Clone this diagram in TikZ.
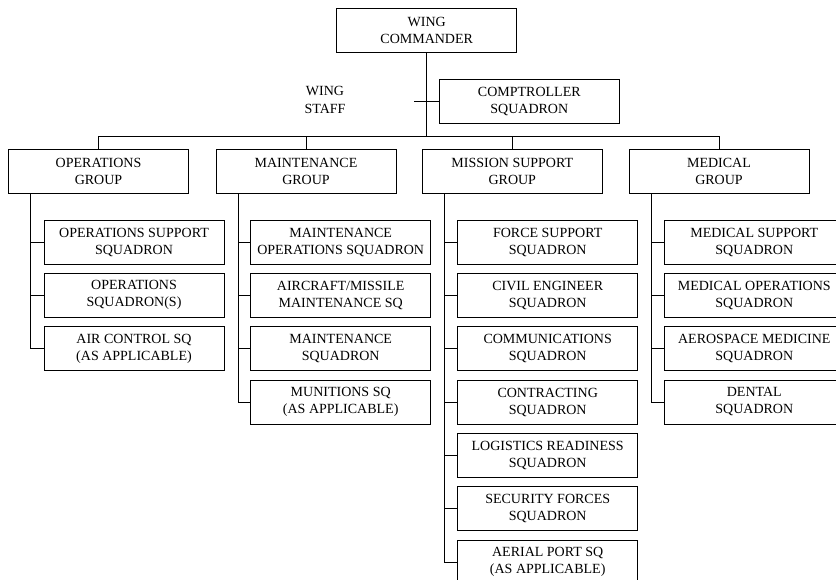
\documentclass[tikz,border=0pt]{standalone}
\usepackage{fontspec}
\setmainfont{Liberation Serif}
\begin{document}
\begin{tikzpicture}[x=1pt,y=-1pt,
  box/.style={draw,line width=1pt,minimum width=180pt,minimum height=44pt,inner sep=0pt,align=center,font=\fontsize{14}{17}\selectfont},
  conn/.style={line width=1pt},
  lbl/.style={align=center,inner sep=0pt,font=\fontsize{14}{18}\selectfont}]
\clip (0,0) rectangle (836,579);
\node[box] (wc) at (426.7,30.3) {WING\\COMMANDER};
\node[box] (comp) at (529.3,101.3) {COMPTROLLER\\SQUADRON};
\node[lbl] (staff) at (325,99.7) {WING\\STAFF};
\coordinate (tick) at (414,101.3);
\coordinate (busL) at (98.5,136);
\coordinate (busR) at (719,136);
% groups
\node[box] (og) at (98.5,171.7) {OPERATIONS\\GROUP};
\node[box] (mg) at (306,171.7) {MAINTENANCE\\GROUP};
\node[box] (msg) at (512.3,171.7) {MISSION SUPPORT\\GROUP};
\node[box] (mdg) at (719,171.7) {MEDICAL\\GROUP};
% ops children
\node[box] (o1) at (134,242) {OPERATIONS SUPPORT\\SQUADRON};
\node[box] (o2) at (134,295.3) {OPERATIONS\\SQUADRON(S)};
\node[box] (o3) at (134,348.7) {AIR CONTROL SQ\\(AS APPLICABLE)};
% maint children
\node[box] (m1) at (340.7,242) {MAINTENANCE\\OPERATIONS SQUADRON};
\node[box] (m2) at (340.7,295.3) {AIRCRAFT/MISSILE\\MAINTENANCE SQ};
\node[box] (m3) at (340.7,348.7) {MAINTENANCE\\SQUADRON};
\node[box] (m4) at (340.7,402) {MUNITIONS SQ\\(AS APPLICABLE)};
% mission support children
\node[box] (s1) at (547.7,242) {FORCE SUPPORT\\SQUADRON};
\node[box] (s2) at (547.7,295.3) {CIVIL ENGINEER\\SQUADRON};
\node[box] (s3) at (547.7,348.7) {COMMUNICATIONS\\SQUADRON};
\node[box] (s4) at (547.7,402) {CONTRACTING\\SQUADRON};
\node[box] (s5) at (547.7,455.3) {LOGISTICS READINESS\\SQUADRON};
\node[box] (s6) at (547.7,508.7) {SECURITY FORCES\\SQUADRON};
\node[box] (s7) at (547.7,562) {AERIAL PORT SQ\\(AS APPLICABLE)};
% medical children
\node[box] (d1) at (754.3,242) {MEDICAL SUPPORT\\SQUADRON};
\node[box] (d2) at (754.3,295.3) {MEDICAL OPERATIONS\\SQUADRON};
\node[box] (d3) at (754.3,348.7) {AEROSPACE MEDICINE\\SQUADRON};
\node[box] (d4) at (754.3,402) {DENTAL\\SQUADRON};
% connectors
\draw[conn] (wc.south) -- (wc.south |- busL);
\draw[conn] (tick) -- (comp.west);
\draw[conn] (busL) -- (busR);
\draw[conn] (busL) -- (og.north);
\draw[conn] (mg.north |- busL) -- (mg.north);
\draw[conn] (msg.north |- busL) -- (msg.north);
\draw[conn] (busR) -- (mdg.north);
\foreach \g/\c in {og/o1,og/o2,og/o3,mg/m1,mg/m2,mg/m3,mg/m4,msg/s1,msg/s2,msg/s3,msg/s4,msg/s5,msg/s6,msg/s7,mdg/d1,mdg/d2,mdg/d3,mdg/d4}
  \draw[conn] ([xshift=22.7pt]\g.south west) |- (\c.west);
\end{tikzpicture}
\end{document}
